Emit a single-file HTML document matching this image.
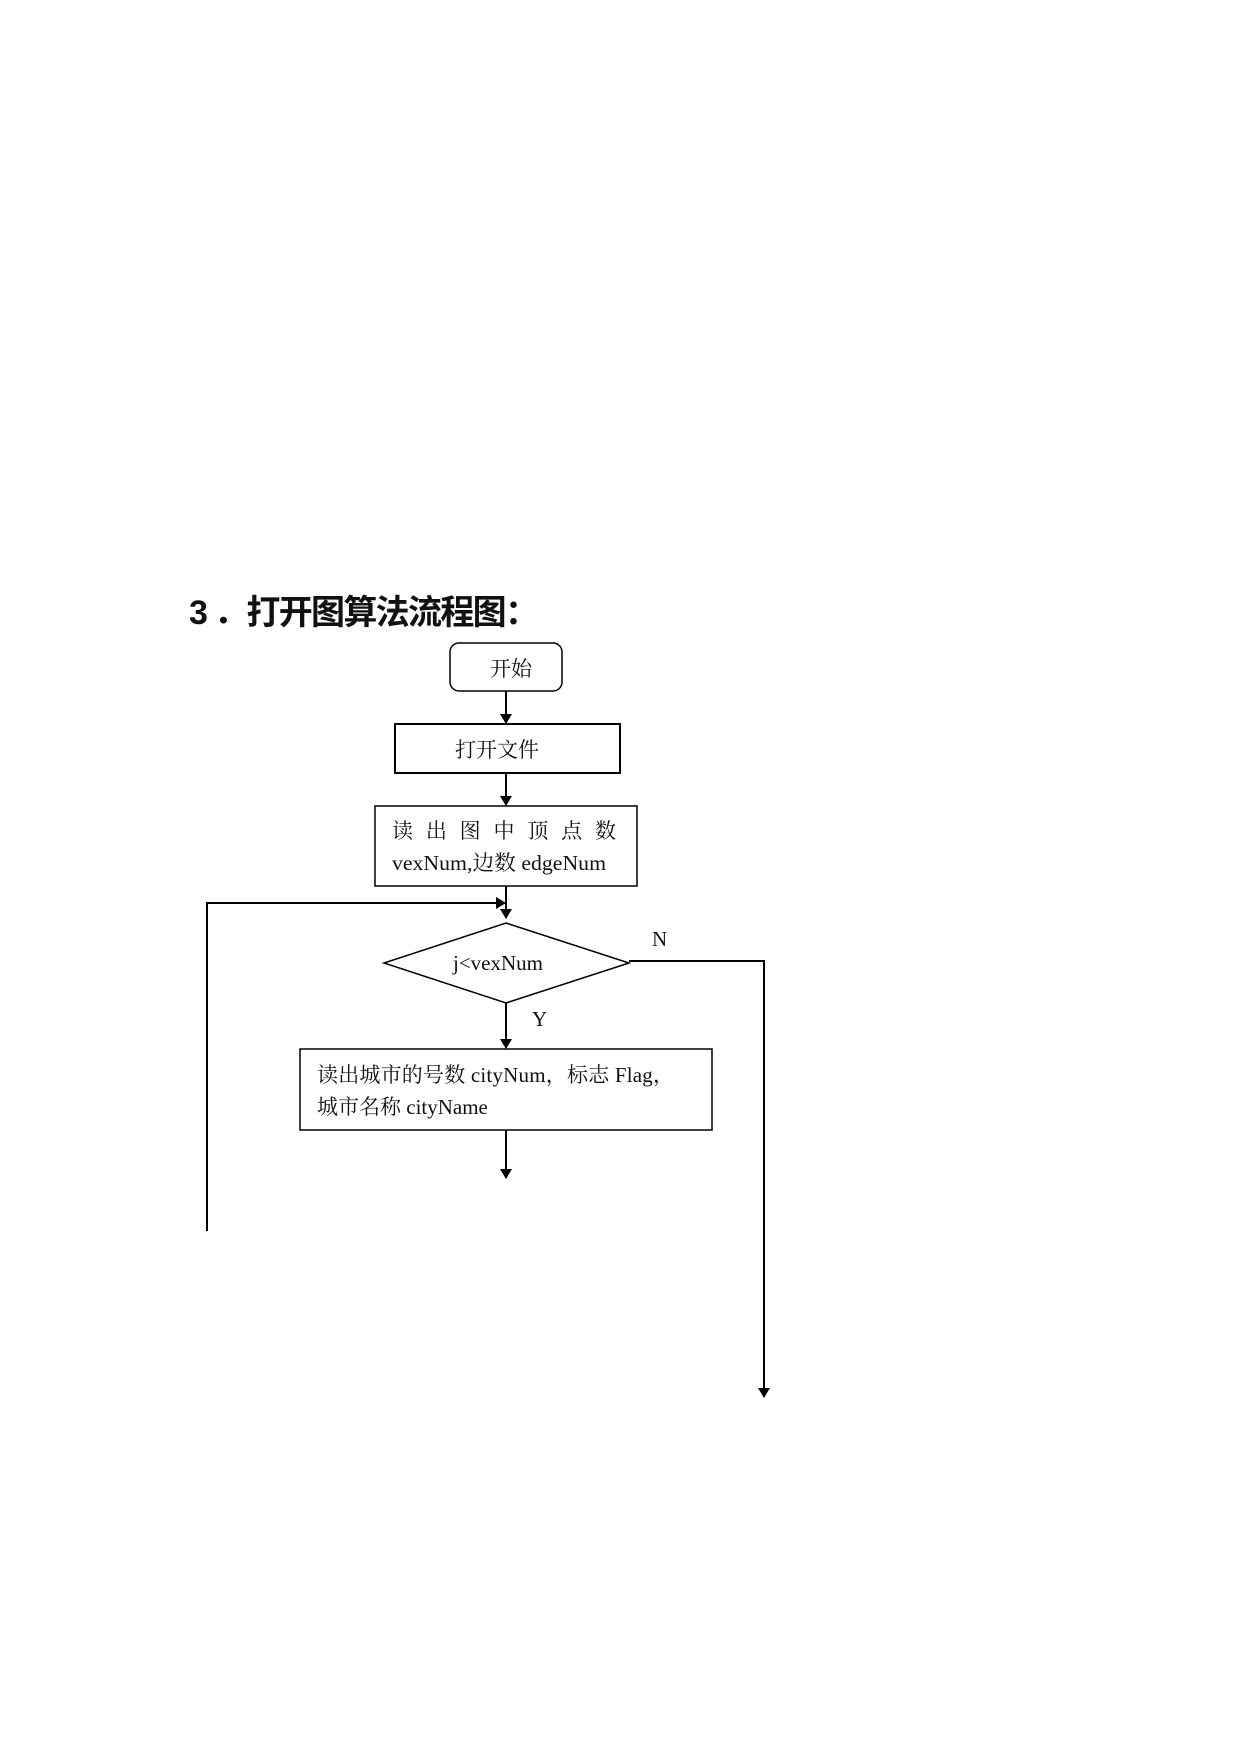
<!DOCTYPE html>
<html><head><meta charset="utf-8"><style>
html,body{margin:0;padding:0;background:#fff;}
svg{display:block;}
text{font-family:"Liberation Serif","Noto Serif CJK SC",serif;fill:#111;}
.t{font-family:"Liberation Sans","Noto Sans CJK SC",sans-serif;font-weight:bold;}
</style></head><body>
<svg width="1241" height="1754" viewBox="0 0 1241 1754" xmlns="http://www.w3.org/2000/svg">
<defs><marker id="a" markerWidth="10" markerHeight="12" refX="9" refY="6" orient="auto" markerUnits="userSpaceOnUse"><path d="M0,0 L10,6 L0,12 z" fill="#000"/></marker></defs>
<text class="t" x="189" y="624" font-size="34" textLength="350" lengthAdjust="spacing">3 ．打开图算法流程图：</text>
<g fill="none" stroke="#000">
<rect x="450" y="643" width="112" height="48" rx="9" stroke-width="1.5"/>
<line x1="506" y1="691" x2="506" y2="723" stroke-width="2" marker-end="url(#a)"/>
<rect x="395" y="724" width="225" height="49" stroke-width="2"/>
<line x1="506" y1="773" x2="506" y2="805" stroke-width="2" marker-end="url(#a)"/>
<rect x="375" y="806" width="262" height="80" stroke-width="1.5"/>
<line x1="506" y1="886" x2="506" y2="918" stroke-width="2" marker-end="url(#a)"/>
<polyline points="207,1231 207,903 505,903" stroke-width="2" marker-end="url(#a)"/>
<polygon points="506,923 629,963 506,1003 384,963" stroke-width="1.5"/>
<polyline points="629,961 764,961 764,1397" stroke-width="2" marker-end="url(#a)"/>
<line x1="506" y1="1003" x2="506" y2="1048" stroke-width="2" marker-end="url(#a)"/>
<rect x="300" y="1049" width="412" height="81" stroke-width="1.5"/>
<line x1="506" y1="1130" x2="506" y2="1178" stroke-width="2" marker-end="url(#a)"/>
</g>
<text x="490" y="676" font-size="21">开始</text>
<text x="455" y="757" font-size="21">打开文件</text>
<text x="392" y="838" font-size="21" textLength="224" lengthAdjust="spacing">读出图中顶点数</text>
<text x="392" y="870" font-size="21" textLength="214" lengthAdjust="spacingAndGlyphs">vexNum,边数 edgeNum</text>
<text x="453" y="970" font-size="21">j&lt;vexNum</text>
<text x="652" y="946" font-size="21">N</text>
<text x="532" y="1026" font-size="21">Y</text>
<text x="317" y="1082" font-size="21" textLength="357" lengthAdjust="spacing">读出城市的号数 cityNum，标志 Flag，</text>
<text x="317" y="1114" font-size="21">城市名称 cityName</text>
</svg>
</body></html>
